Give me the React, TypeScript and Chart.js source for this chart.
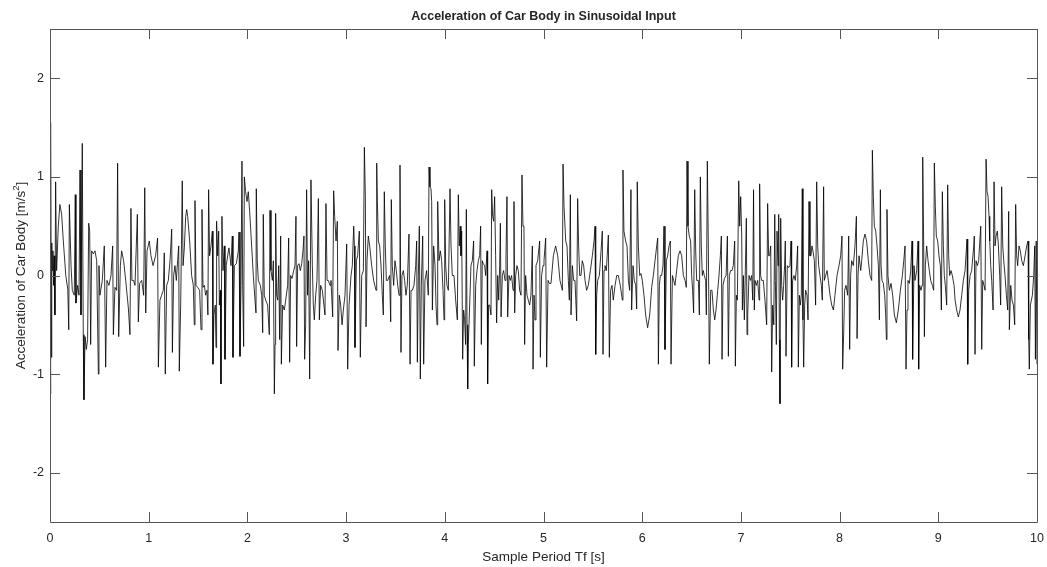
import React, { useEffect, useRef } from "react";
import { Chart, registerables } from "chart.js";

Chart.register(...registerables);

const TITLE = "Acceleration of Car Body in Sinusoidal Input";
const X_LABEL = "Sample Period Tf [s]";
const Y_LABEL_MAIN = "Acceleration of Car Body [m/s";
const Y_LABEL_SUP = "2";
const Y_LABEL_END = "]";
const X_TICKS = [0, 1, 2, 3, 4, 5, 6, 7, 8, 9, 10];
const Y_TICKS = [-2, -1, 0, 1, 2];
const X_MIN = 0;
const X_MAX = 10;
const Y_MIN = -2.5;
const Y_MAX = 2.5;

// [time s, acceleration m/s^2]
const seg0: [number, number][] = [
  [0.0, 0.3], [0.003, 1.55], [0.006, -1.2], [0.01, 1.38], [0.014, -0.83], [0.018, 0.33], [0.024, 0.05], [0.03, 0.25],
  [0.036, -0.1], [0.042, 0.2], [0.05, -0.4], [0.057, 0.95], [0.067, 0.05], [0.084, 0.5], [0.1, 0.72], [0.118, 0.62],
  [0.135, 0.35], [0.16, 0.0], [0.18, -0.14], [0.19, -0.55], [0.196, 0.72], [0.213, 0.1], [0.226, -0.15], [0.246, -0.2],
  [0.256, 0.82], [0.263, -0.28], [0.28, -0.1], [0.294, -0.2], [0.304, 1.07], [0.314, -0.4], [0.327, 1.34], [0.337, -0.6],
  [0.344, -1.26], [0.355, -0.62], [0.368, -0.75], [0.381, -0.65], [0.392, 0.53], [0.402, 0.45], [0.412, -0.7], [0.422, 0.25],
  [0.439, 0.22], [0.456, 0.25], [0.473, 0.15], [0.49, -1.0], [0.496, 0.1], [0.506, -0.2], [0.53, -0.05], [0.55, 0.3],
  [0.564, -0.93], [0.577, -0.05], [0.597, -0.1], [0.618, 0.0], [0.635, 0.3], [0.642, -0.6], [0.658, -0.12], [0.675, -0.15],
  [0.685, 1.14], [0.696, -0.62], [0.713, 0.1], [0.726, 0.25], [0.746, 0.15], [0.767, -0.05], [0.794, -0.33], [0.81, -0.6],
  [0.82, 0.68], [0.83, -0.05], [0.847, -0.05], [0.861, -0.1], [0.885, 0.62], [0.895, -0.47], [0.908, -0.08], [0.929, -0.05],
  [0.949, -0.2], [0.96, 0.89], [0.97, -0.38], [0.983, 0.25],
];
const seg1: [number, number][] = [
  [1.006, 0.35], [1.023, 0.2], [1.044, 0.1], [1.07, 0.2], [1.09, 0.38], [1.098, -0.93], [1.114, -0.25], [1.131, -0.2],
  [1.148, -0.15], [1.158, 0.23], [1.168, -1.0], [1.182, -0.1], [1.199, -0.05], [1.216, 0.15], [1.233, 0.47], [1.24, -0.78],
  [1.253, 0.0], [1.266, 0.1], [1.28, -0.05], [1.293, 0.15], [1.304, 0.3], [1.31, -0.97], [1.324, -0.3], [1.34, 0.96],
  [1.348, 0.1], [1.361, 0.28], [1.375, 0.6], [1.385, 0.67], [1.395, 0.6], [1.415, 0.35], [1.435, 0.0], [1.452, -0.1],
  [1.462, -0.5], [1.469, 0.76], [1.479, -0.1], [1.496, -0.12], [1.516, -0.15], [1.53, -0.55], [1.54, 0.67], [1.55, -0.12],
  [1.564, -0.1], [1.577, -0.2], [1.59, -0.15], [1.6, -0.4], [1.607, 0.87], [1.617, 0.2], [1.631, 0.3], [1.645, 0.45],
  [1.651, -0.9], [1.661, -0.4], [1.675, -0.3], [1.682, -0.73], [1.688, 0.55], [1.699, 0.2], [1.709, 0.45], [1.716, -0.3],
  [1.726, -0.15], [1.732, -1.1], [1.742, 0.6], [1.753, 0.05], [1.766, 0.3], [1.773, -0.85], [1.786, 0.1], [1.8, 0.2],
  [1.813, 0.28], [1.834, 0.1], [1.847, 0.4], [1.854, -0.83], [1.868, 0.1], [1.888, 0.12], [1.908, 0.25], [1.915, 0.44],
  [1.925, -0.82], [1.935, -0.1], [1.945, 1.16], [1.952, -0.1], [1.962, -0.72], [1.969, 1.0], [1.982, 0.85], [1.996, 0.75],
];
const seg2: [number, number][] = [
  [2.009, 0.85], [2.023, 0.65], [2.043, 0.3], [2.06, 0.0], [2.077, -0.25], [2.087, -0.38], [2.09, 0.88], [2.1, 0.15],
  [2.111, -0.05], [2.131, -0.1], [2.145, -0.2], [2.155, -0.58], [2.161, 0.62], [2.171, -0.2], [2.185, -0.25], [2.205, -0.3],
  [2.222, -0.6], [2.229, 0.66], [2.239, 0.05], [2.253, -0.05], [2.263, 0.15], [2.273, -1.2], [2.28, -0.7], [2.286, 0.63],
  [2.296, -0.2], [2.307, -0.25], [2.317, 0.1], [2.327, -0.65], [2.337, 0.4], [2.344, -0.9], [2.357, -0.3], [2.374, -0.35],
  [2.388, -0.25], [2.408, -0.1], [2.418, 0.38], [2.428, -0.88], [2.438, 0.0], [2.452, -0.03], [2.469, 0.05], [2.482, 0.1],
  [2.492, 0.6], [2.499, -0.72], [2.509, 0.1], [2.523, 0.12], [2.536, 0.05], [2.55, 0.12], [2.563, 0.25], [2.573, 0.4],
  [2.58, -0.85], [2.59, -0.5], [2.6, 0.87], [2.61, -0.2], [2.62, 0.15], [2.631, -1.05], [2.644, 0.97], [2.658, 0.1],
  [2.668, -0.3], [2.678, -0.45], [2.692, -0.2], [2.705, -0.05], [2.719, 0.78], [2.729, -0.45], [2.742, -0.1], [2.759, -0.15],
  [2.786, -0.4], [2.796, 0.73], [2.807, -0.05], [2.82, -0.05], [2.837, -0.1], [2.847, -0.05], [2.864, -0.42], [2.874, 0.86],
  [2.884, 0.6], [2.898, 0.35], [2.911, 0.55], [2.918, -0.76], [2.931, -0.2], [2.945, -0.3], [2.959, -0.5], [2.972, -0.35],
  [2.989, -0.2],
];
const seg3: [number, number][] = [
  [3.006, 0.32], [3.016, -0.95], [3.03, -0.3], [3.05, 0.0], [3.063, 0.1], [3.077, 0.5], [3.084, 0.3], [3.09, -0.73],
  [3.104, 0.15], [3.117, 0.2], [3.134, 0.45], [3.144, -0.83], [3.158, 0.0], [3.175, 0.05], [3.185, 1.3], [3.195, 0.8],
  [3.202, -0.52], [3.212, 0.15], [3.225, 0.4], [3.239, 0.3], [3.259, 0.1], [3.279, -0.05], [3.303, -0.15], [3.31, 1.14],
  [3.317, 0.75], [3.327, 0.35], [3.34, 0.3], [3.354, 0.1], [3.367, -0.2], [3.377, -0.4], [3.387, 0.85], [3.397, 0.3],
  [3.408, -0.05], [3.421, -0.05], [3.441, 0.0], [3.452, -0.47], [3.458, 0.77], [3.468, 0.1], [3.482, -0.1], [3.495, 0.15],
  [3.509, 0.05], [3.523, -0.1], [3.536, -0.2], [3.546, 1.12], [3.556, -0.78], [3.566, 0.0], [3.58, 0.05], [3.593, -0.05],
  [3.607, -0.2], [3.62, -0.1], [3.637, 0.42], [3.648, -0.9], [3.658, -0.15], [3.671, -0.15], [3.688, -0.1], [3.705, 0.1],
  [3.715, 0.35], [3.722, -0.88], [3.732, 0.0], [3.742, 0.5], [3.752, -1.05], [3.762, -0.1], [3.776, 0.4], [3.786, -0.9],
  [3.799, -0.05], [3.816, 0.05], [3.833, -0.2], [3.84, 1.1], [3.85, 0.9], [3.86, 0.88], [3.867, 0.75], [3.874, -0.35],
  [3.887, 0.3], [3.901, 0.1], [3.911, -0.3], [3.921, -0.5], [3.928, 0.75], [3.941, 0.15], [3.955, 0.25], [3.968, 0.15],
  [3.982, -0.15], [3.992, -0.45], [3.999, 0.77],
];
const seg4: [number, number][] = [
  [4.009, 0.1], [4.022, -0.1], [4.036, -0.15], [4.053, 0.88], [4.063, 0.3], [4.076, 0.0], [4.093, 0.0], [4.11, -0.25],
  [4.127, -0.45], [4.137, 0.82], [4.147, 0.3], [4.157, 0.5], [4.164, 0.2], [4.171, 0.45], [4.181, -0.85], [4.191, -0.35],
  [4.201, -0.45], [4.211, -0.7], [4.218, 0.67], [4.225, -0.5], [4.232, -1.15], [4.238, -0.7], [4.252, -0.3], [4.265, 0.1],
  [4.279, 0.15], [4.292, 0.35], [4.299, -0.92], [4.313, -0.1], [4.326, 0.05], [4.34, 0.15], [4.353, 0.2], [4.363, 0.5],
  [4.37, -0.7], [4.38, 0.15], [4.39, 0.12], [4.404, 0.1], [4.414, 0.0], [4.428, 0.25], [4.434, -1.1], [4.444, -0.3],
  [4.455, -0.3], [4.468, -0.4], [4.475, 0.87], [4.485, 0.6], [4.495, 0.55], [4.505, 0.8], [4.515, 0.2], [4.525, -0.48],
  [4.536, 0.0], [4.546, -0.25], [4.556, 0.1], [4.563, 0.53], [4.57, -0.42], [4.583, 0.0], [4.596, 0.05], [4.61, -0.05],
  [4.62, 0.2], [4.63, 0.8], [4.637, -0.42], [4.65, 0.0], [4.664, -0.05], [4.677, 0.0], [4.691, -0.15], [4.701, 0.75],
  [4.708, -0.38], [4.718, 0.0], [4.731, 0.1], [4.745, 0.05], [4.758, -0.15], [4.772, -0.2], [4.782, 1.02], [4.792, 0.5],
  [4.802, 0.5], [4.809, -0.7], [4.819, 0.0], [4.833, -0.2], [4.846, -0.25], [4.86, -0.3], [4.873, -0.2], [4.887, 0.3],
  [4.894, -0.95], [4.904, -0.2], [4.914, -0.45], [4.924, 0.1], [4.941, 0.15], [4.961, 0.35], [4.968, -0.83], [4.981, 0.0],
  [4.995, 0.1],
];
const seg5: [number, number][] = [
  [5.005, 0.15], [5.022, 0.38], [5.032, -0.93], [5.046, -0.05], [5.059, -0.08], [5.076, -0.08], [5.1, 0.2], [5.123, 0.3],
  [5.144, 0.2], [5.167, -0.05], [5.191, -0.15], [5.198, 1.13], [5.208, 0.7], [5.225, 0.35], [5.238, 0.3], [5.252, -0.05],
  [5.262, -0.25], [5.272, 0.82], [5.279, -0.4], [5.292, 0.1], [5.306, -0.05], [5.319, -0.05], [5.336, -0.46], [5.346, 0.78],
  [5.356, 0.3], [5.367, 0.0], [5.38, 0.0], [5.393, 0.15], [5.407, 0.1], [5.421, -0.05], [5.437, -0.15], [5.454, -0.1],
  [5.475, 0.05], [5.495, 0.2], [5.512, 0.35], [5.522, 0.5], [5.529, -0.8], [5.539, -0.2], [5.549, -0.05], [5.566, 0.0],
  [5.583, 0.25], [5.596, 0.45], [5.603, -0.8], [5.613, 0.05], [5.623, 0.1], [5.637, 0.05], [5.657, 0.41], [5.667, -0.83],
  [5.68, -0.15], [5.694, -0.1], [5.707, -0.25], [5.725, -0.1], [5.742, 0.0], [5.758, 0.0], [5.778, -0.1], [5.799, -0.25],
  [5.805, 1.07], [5.815, 0.45], [5.832, 0.35], [5.846, 0.3], [5.86, -0.05], [5.873, -0.15], [5.886, 0.87], [5.893, -0.35],
  [5.907, 0.1], [5.92, -0.05], [5.934, -0.1], [5.944, -0.34], [5.95, 0.95], [5.961, 0.3], [5.975, 0.0], [5.988, 0.02],
];
const seg6: [number, number][] = [
  [6.001, -0.05], [6.018, -0.2], [6.035, -0.4], [6.055, -0.53], [6.076, -0.4], [6.096, -0.12], [6.113, 0.0], [6.13, 0.15],
  [6.147, 0.3], [6.157, 0.38], [6.164, -0.9], [6.174, -0.1], [6.184, 0.0], [6.197, 0.0], [6.211, 0.1], [6.221, 0.5],
  [6.231, -0.75], [6.245, 0.15], [6.258, 0.2], [6.272, 0.3], [6.285, 0.35], [6.292, -0.9], [6.306, 0.0], [6.319, -0.05],
  [6.332, -0.1], [6.349, 0.05], [6.366, 0.2], [6.383, 0.25], [6.4, 0.2], [6.417, 0.0], [6.434, -0.05], [6.447, -0.12],
  [6.454, 1.16], [6.464, 0.5], [6.477, 0.4], [6.491, 0.35], [6.501, 0.0], [6.511, -0.15], [6.521, -0.38], [6.532, 0.87],
  [6.542, 0.25], [6.552, -0.05], [6.569, -0.05], [6.579, -0.4], [6.589, 1.0], [6.599, 0.3], [6.609, 0.0], [6.619, 0.05],
  [6.629, 0.0], [6.643, -0.05], [6.65, -0.4], [6.66, 1.16], [6.67, 0.3], [6.68, -0.9], [6.694, -0.15], [6.707, -0.15],
  [6.721, -0.35], [6.735, -0.45], [6.748, -0.35], [6.765, -0.15], [6.778, 0.0], [6.792, 0.2], [6.802, 0.4], [6.809, -0.85],
  [6.819, -0.1], [6.833, -0.03], [6.85, 0.0], [6.863, 0.4], [6.873, -0.82], [6.883, 0.0], [6.896, 0.05], [6.91, 0.05],
  [6.923, 0.1], [6.937, 0.35], [6.944, -0.92], [6.954, -0.2], [6.964, -0.25], [6.978, 0.96], [6.988, 0.5], [6.998, 0.8],
];
const seg7: [number, number][] = [
  [7.008, 0.4], [7.015, -0.35], [7.025, 0.0], [7.035, -0.45], [7.045, 0.05], [7.055, 0.58], [7.062, -0.6], [7.069, -0.4],
  [7.082, 0.0], [7.096, -0.05], [7.109, 0.0], [7.12, -0.25], [7.128, 0.87], [7.136, -0.35], [7.143, -0.05], [7.157, -0.1],
  [7.17, -0.05], [7.184, -0.25], [7.19, 0.93], [7.2, 0.0], [7.21, -0.05], [7.227, -0.05], [7.244, -0.25], [7.261, -0.5],
  [7.271, 0.73], [7.281, 0.2], [7.291, 0.2], [7.302, 0.3], [7.312, -0.98], [7.322, -0.3], [7.333, -0.5], [7.343, 0.62],
  [7.349, -0.05], [7.359, -0.7], [7.366, 0.45], [7.376, 0.1], [7.383, 0.62], [7.39, -0.65], [7.396, -1.3], [7.403, 0.58],
  [7.413, -0.1], [7.423, -0.25], [7.433, -0.1], [7.443, 0.1], [7.45, 0.35], [7.457, -0.82], [7.47, 0.1], [7.484, 0.08],
  [7.497, 0.1], [7.508, 0.35], [7.514, -0.93], [7.524, -0.05], [7.538, 0.0], [7.551, -0.05], [7.565, 0.1], [7.575, 0.3],
  [7.582, -0.93], [7.592, -0.2], [7.602, -0.3], [7.612, -0.2], [7.622, 0.88], [7.629, -0.45], [7.636, -0.93], [7.646, -0.3],
  [7.656, -0.15], [7.67, -0.2], [7.68, -0.45], [7.69, 0.75], [7.7, 0.2], [7.71, 0.2], [7.72, 0.3], [7.73, 0.25],
  [7.744, 0.15], [7.757, -0.3], [7.768, 0.95], [7.778, 0.3], [7.788, 0.1], [7.801, 0.0], [7.815, -0.1], [7.825, -0.25],
  [7.838, 0.9], [7.845, -0.05], [7.859, 0.0], [7.873, 0.05], [7.886, -0.05], [7.903, -0.2], [7.92, -0.3], [7.937, -0.35],
  [7.953, -0.2], [7.974, 0.0], [7.994, 0.1],
];
const seg8: [number, number][] = [
  [8.011, 0.2], [8.024, 0.4], [8.031, -0.95], [8.041, -0.6], [8.051, -0.15], [8.065, -0.1], [8.082, -0.2], [8.092, 0.4],
  [8.102, -0.75], [8.112, 0.0], [8.122, 0.15], [8.139, 0.1], [8.156, 0.3], [8.17, 0.6], [8.177, -0.64], [8.187, 0.0],
  [8.197, 0.2], [8.214, 0.05], [8.224, 0.15], [8.24, 0.35], [8.257, 0.42], [8.274, 0.35], [8.291, 0.15], [8.308, 0.0],
  [8.325, -0.05], [8.332, 1.27], [8.342, 0.8], [8.352, 0.5], [8.366, 0.45], [8.379, 0.3], [8.393, 0.1], [8.403, -0.45],
  [8.413, 0.87], [8.42, 0.1], [8.43, -0.05], [8.443, -0.08], [8.457, -0.2], [8.467, -0.4], [8.474, -0.65], [8.48, 0.67],
  [8.49, 0.0], [8.504, -0.15], [8.521, -0.08], [8.538, -0.2], [8.555, -0.4], [8.575, -0.48], [8.595, -0.35], [8.616, -0.15],
  [8.636, 0.0], [8.65, 0.15], [8.663, 0.3], [8.673, -0.95], [8.683, -0.35], [8.693, -0.05], [8.707, -0.08], [8.72, 0.05],
  [8.734, 0.35], [8.74, -0.85], [8.754, 0.1], [8.764, -0.05], [8.781, 0.05], [8.795, 0.35], [8.801, -0.95], [8.811, -0.1],
  [8.825, -0.15], [8.835, -0.1], [8.842, 1.2], [8.852, 0.3], [8.859, -0.62], [8.869, 0.1], [8.882, 0.3], [8.896, 0.15],
  [8.909, 0.05], [8.923, -0.05], [8.94, -0.1], [8.953, -0.15], [8.96, 1.14], [8.97, 0.7], [8.98, 0.4], [8.994, 0.35],
];
const seg9: [number, number][] = [
  [9.007, 0.2], [9.021, 0.1], [9.031, -0.35], [9.041, 0.85], [9.051, 0.3], [9.061, 0.0], [9.071, -0.1], [9.085, -0.3],
  [9.095, 0.92], [9.105, 0.2], [9.115, 0.0], [9.129, 0.05], [9.142, 0.0], [9.16, -0.1], [9.17, -0.25], [9.186, -0.35],
  [9.203, -0.42], [9.22, -0.35], [9.237, -0.2], [9.254, -0.05], [9.271, 0.05], [9.291, 0.37], [9.298, -0.9], [9.308, -0.15],
  [9.322, 0.0], [9.338, 0.05], [9.359, 0.3], [9.365, 0.4], [9.372, -0.8], [9.382, 0.15], [9.396, 0.1], [9.409, 0.15],
  [9.43, 0.5], [9.44, -0.75], [9.45, -0.05], [9.463, -0.1], [9.474, -0.15], [9.484, 1.18], [9.494, 0.85], [9.504, 0.8],
  [9.514, 0.6], [9.521, 0.35], [9.531, 0.1], [9.541, -0.05], [9.555, -0.35], [9.565, 0.95], [9.575, 0.3], [9.585, 0.4],
  [9.598, 0.45], [9.609, 0.3], [9.622, 0.0], [9.632, -0.3], [9.642, 0.9], [9.653, 0.3], [9.663, 0.15], [9.676, 0.0],
  [9.69, -0.2], [9.703, -0.35], [9.713, 0.65], [9.72, -0.55], [9.734, -0.1], [9.747, -0.25], [9.761, -0.3], [9.774, -0.5],
  [9.784, 0.72], [9.794, 0.2], [9.804, 0.1], [9.818, 0.3], [9.831, 0.25], [9.845, 0.15], [9.862, 0.1], [9.879, 0.2],
  [9.896, 0.3], [9.909, 0.35], [9.916, -0.65], [9.922, -0.95], [9.933, -0.3], [9.943, -0.25], [9.953, -0.2], [9.967, 0.0],
  [9.977, 0.3], [9.984, -0.85], [9.992, 0.35], [10.0, -0.9],
];

const SEGMENTS = [seg0, seg1, seg2, seg3, seg4, seg5, seg6, seg7, seg8, seg9];

const FONT = '"Liberation Sans", Arial, Helvetica, sans-serif';
const TEXT_COLOR = "#262626";
const AXIS_COLOR = "#555555";

const matlabFrame = {
  id: "matlabFrame",
  afterDraw(chart: any) {
    const { ctx, chartArea } = chart;
    const { left, right, top, bottom } = chartArea;
    const xs = chart.scales.x;
    const ys = chart.scales.y;
    ctx.save();
    ctx.strokeStyle = AXIS_COLOR;
    ctx.lineWidth = 1;
    ctx.beginPath();
    ctx.rect(Math.round(left) + 0.5, Math.round(top) + 0.5, Math.round(right - left), Math.round(bottom - top));
    const tl = 10;
    X_TICKS.forEach((v) => {
      const px = Math.round(xs.getPixelForValue(v)) + 0.5;
      ctx.moveTo(px, bottom);
      ctx.lineTo(px, bottom - tl);
      ctx.moveTo(px, top);
      ctx.lineTo(px, top + tl);
    });
    Y_TICKS.forEach((v) => {
      const py = Math.round(ys.getPixelForValue(v)) + 0.5;
      ctx.moveTo(left, py);
      ctx.lineTo(left + tl, py);
      ctx.moveTo(right, py);
      ctx.lineTo(right - tl, py);
    });
    ctx.stroke();

    ctx.fillStyle = TEXT_COLOR;
    ctx.textAlign = "center";
    ctx.textBaseline = "middle";
    ctx.font = `bold 12.5px ${FONT}`;
    const cx = (left + right) / 2;
    ctx.fillText(TITLE, cx, 17);

    ctx.font = `13.5px ${FONT}`;
    ctx.fillText(X_LABEL, cx, 557);

    // y label with superscript
    ctx.translate(21, (top + bottom) / 2);
    ctx.rotate(-Math.PI / 2);
    ctx.font = `13.5px ${FONT}`;
    const wMain = ctx.measureText(Y_LABEL_MAIN).width;
    const wEnd = ctx.measureText(Y_LABEL_END).width;
    ctx.font = `9.5px ${FONT}`;
    const wSup = ctx.measureText(Y_LABEL_SUP).width;
    const total = wMain + wSup + wEnd;
    let x0 = -total / 2;
    ctx.textAlign = "left";
    ctx.font = `13.5px ${FONT}`;
    ctx.fillText(Y_LABEL_MAIN, x0, 0);
    x0 += wMain;
    ctx.font = `9.5px ${FONT}`;
    ctx.fillText(Y_LABEL_SUP, x0, -5);
    x0 += wSup;
    ctx.font = `13.5px ${FONT}`;
    ctx.fillText(Y_LABEL_END, x0, 0);
    ctx.restore();
  },
};

const bgPlugin = {
  id: "bgWhite",
  beforeDraw(chart: any) {
    const { ctx, width, height } = chart;
    ctx.save();
    ctx.fillStyle = "#ffffff";
    ctx.fillRect(0, 0, width, height);
    ctx.restore();
  },
};

export default function App() {
  const canvasRef = useRef<HTMLCanvasElement | null>(null);

  useEffect(() => {
    if (!canvasRef.current) return;
    const points = SEGMENTS.flat().map(([t, a]) => ({ x: t, y: a }));
    const chart = new Chart(canvasRef.current, {
      type: "line",
      data: {
        datasets: [
          {
            data: points,
            borderColor: "#000000",
            borderWidth: 0.8,
            pointRadius: 0,
            tension: 0,
            fill: false,
          },
        ],
      },
      plugins: [bgPlugin, matlabFrame],
      options: {
        animation: false,
        responsive: false,
        devicePixelRatio: 1,
        events: [],
        layout: { padding: { top: 29, right: 10, left: 0, bottom: 0 } },
        plugins: {
          legend: { display: false },
          tooltip: { enabled: false },
          title: { display: false },
        },
        scales: {
          x: {
            type: "linear",
            min: X_MIN,
            max: X_MAX,
            grid: { display: false, drawTicks: false, tickLength: 0 },
            border: { display: false },
            afterBuildTicks: (scale: any) => {
              scale.ticks = X_TICKS.map((v) => ({ value: v }));
            },
            afterFit: (scale: any) => {
              scale.height = 45;
              scale.paddingLeft = 0;
              scale.paddingRight = 0;
            },
            ticks: {
              padding: 9,
              maxRotation: 0,
              autoSkip: false,
              color: TEXT_COLOR,
              font: { family: FONT, size: 12.5 },
              callback: (v: any) => String(v),
            },
          },
          y: {
            type: "linear",
            min: Y_MIN,
            max: Y_MAX,
            grid: { display: false, drawTicks: false, tickLength: 0 },
            border: { display: false },
            afterBuildTicks: (scale: any) => {
              scale.ticks = Y_TICKS.map((v) => ({ value: v }));
            },
            afterFit: (scale: any) => {
              scale.width = 50;
              scale.paddingTop = 0;
              scale.paddingBottom = 0;
            },
            ticks: {
              padding: 6,
              autoSkip: false,
              color: TEXT_COLOR,
              font: { family: FONT, size: 12.5 },
              callback: (v: any) => String(v),
            },
          },
        },
      },
    });
    return () => chart.destroy();
  }, []);

  return (
    <div style={{ position: "fixed", left: 0, top: 0, width: 1047, height: 567, background: "#fff" }}>
      <canvas ref={canvasRef} width={1047} height={567} style={{ width: 1047, height: 567, display: "block" }} />
    </div>
  );
}
